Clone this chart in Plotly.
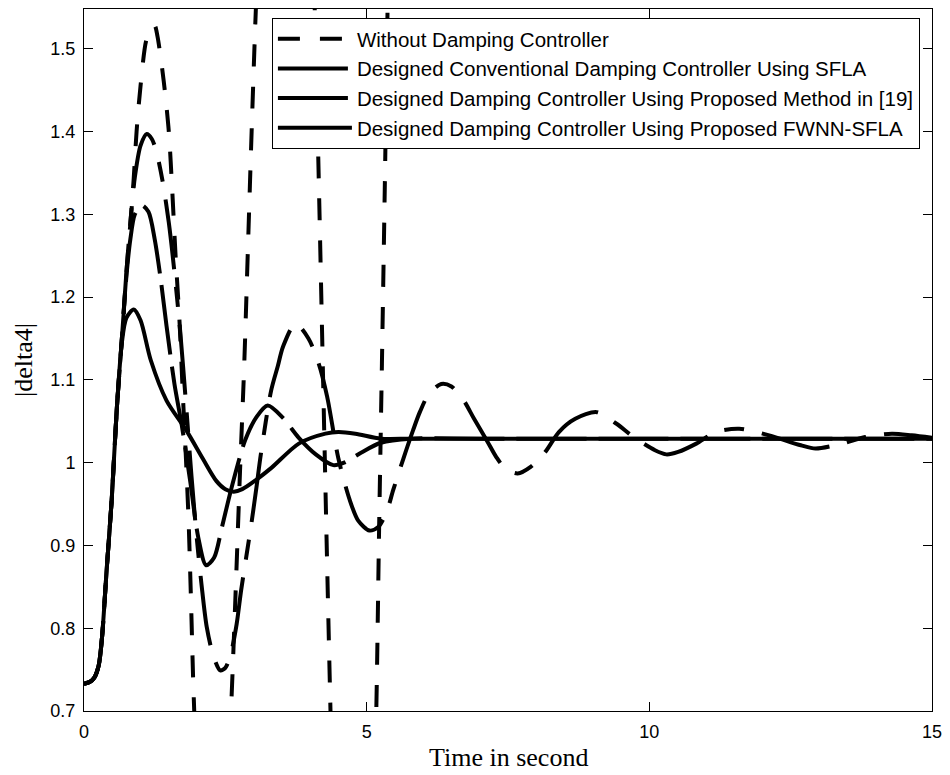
import plotly.graph_objects as go

# ---------------- data ----------------
t_without = [0, 0.1, 0.18, 0.26, 0.32, 0.40, 0.49, 0.58, 0.67, 0.75, 0.82, 0.88, 0.93, 1.0, 1.10,
             1.20, 1.25, 1.30, 1.41, 1.5, 1.56, 1.62, 1.69, 1.75, 1.8, 1.85, 1.89, 1.93, 1.96, 2.0,
             2.1, 2.27, 2.45, 2.55, 2.60, 2.68, 2.76, 2.83, 2.90, 2.97, 3.04, 3.15, 3.55, 3.95,
             4.08, 4.15, 4.22, 4.29, 4.36, 4.45, 4.77, 5.08, 5.17, 5.22, 5.27, 5.32, 5.37, 5.5, 5.7]
delta_without = [0.733, 0.735, 0.740, 0.755, 0.79, 0.87, 0.955, 1.065, 1.15, 1.23, 1.289, 1.344, 1.40, 1.455, 1.51,
                 1.527, 1.528, 1.515, 1.461, 1.40, 1.33, 1.25, 1.17, 1.08, 1.01, 0.93, 0.84, 0.74, 0.68, 0.60,
                 0.49, 0.44, 0.52, 0.63, 0.70, 0.84, 0.99, 1.11, 1.26, 1.41, 1.548, 1.72, 1.98, 1.75,
                 1.55, 1.35, 1.13, 0.91, 0.70, 0.45, 0.10, 0.45, 0.70, 0.92, 1.12, 1.33, 1.55, 2.1, 2.8]

t_sfla = [0, 0.1, 0.18, 0.26, 0.32, 0.40, 0.49, 0.58, 0.67, 0.75, 0.82, 0.9, 1.0, 1.11, 1.2, 1.28, 1.39,
          1.5, 1.6, 1.7, 1.8, 1.9, 2.0, 2.08, 2.17, 2.29, 2.41, 2.5, 2.6, 2.7, 2.78, 2.96, 3.05, 3.13,
          3.31, 3.43, 3.52, 3.74, 3.97, 4.15, 4.3, 4.5, 4.7, 4.85, 5.05, 5.2, 5.35, 5.47, 5.65, 5.82,
          5.94, 6.1, 6.32, 6.5, 6.7, 6.9, 7.14, 7.29, 7.45, 7.67, 7.9, 8.16, 8.4, 8.69, 9.07, 9.42,
          9.72, 10.1, 10.3, 10.51, 10.83, 11.18, 11.59, 12.12, 12.68, 12.94, 13.41, 13.82, 14.29,
          14.64, 15]
delta_sfla = [0.733, 0.735, 0.740, 0.755, 0.79, 0.87, 0.955, 1.065, 1.15, 1.23, 1.29, 1.345, 1.383, 1.397,
              1.391, 1.376, 1.34, 1.29, 1.23, 1.16, 1.075, 0.985, 0.905, 0.852, 0.802, 0.766, 0.749, 0.752,
              0.77, 0.805, 0.846, 0.926, 0.97, 1.011, 1.087, 1.117, 1.14, 1.168, 1.150, 1.12, 1.08, 1.005,
              0.955, 0.93, 0.918, 0.922, 0.94, 0.967, 1.005, 1.039, 1.061, 1.083, 1.095, 1.092, 1.077,
              1.053, 1.025, 1.007, 0.993, 0.987, 0.995, 1.013, 1.037, 1.053, 1.061, 1.047, 1.031, 1.015,
              1.010, 1.013, 1.023, 1.037, 1.041, 1.033, 1.021, 1.017, 1.023, 1.031, 1.035, 1.033, 1.030]

t_m19 = [0, 0.1, 0.18, 0.26, 0.32, 0.40, 0.49, 0.58, 0.67, 0.75, 0.82, 0.9, 1.02, 1.14, 1.25, 1.35,
         1.46, 1.6, 1.73, 1.88, 2.02, 2.16, 2.3, 2.44, 2.6, 2.85, 3.05, 3.25, 3.52, 3.8, 4.1, 4.41,
         4.6, 4.9, 5.25, 5.78, 7, 10, 15]
delta_m19 = [0.733, 0.735, 0.740, 0.755, 0.79, 0.87, 0.955, 1.065, 1.15, 1.225, 1.27, 1.30, 1.311, 1.303,
             1.27, 1.225, 1.165, 1.095, 1.045, 0.977, 0.91, 0.876, 0.885, 0.922, 0.967, 1.027, 1.055,
             1.069, 1.054, 1.030, 1.01, 0.997, 1.0, 1.012, 1.024, 1.029, 1.029, 1.029, 1.029]

t_fwnn = [0, 0.1, 0.18, 0.26, 0.32, 0.40, 0.49, 0.58, 0.67, 0.75, 0.88, 1.0, 1.18, 1.46, 1.81, 2.1,
          2.34, 2.5, 2.65, 2.8, 3.04, 3.32, 3.8, 4.27, 4.5, 4.8, 5.25, 5.78, 7, 10, 15]
delta_fwnn = [0.733, 0.735, 0.740, 0.755, 0.79, 0.87, 0.955, 1.065, 1.145, 1.175, 1.185, 1.172, 1.124,
              1.075, 1.039, 1.005, 0.978, 0.968, 0.965, 0.968, 0.979, 0.994, 1.023, 1.035, 1.037, 1.035,
              1.029, 1.029, 1.029, 1.029, 1.029]

series_names = ["Without Damping Controller",
                "Designed Conventional Damping Controller Using SFLA",
                "Designed Damping Controller Using Proposed Method in [19]",
                "Designed Damping Controller Using Proposed FWNN-SFLA"]

x_ticks = [0, 5, 10, 15]
y_ticks = [0.7, 0.8, 0.9, 1.0, 1.1, 1.2, 1.3, 1.4, 1.5]
y_ticktext = ["0.7", "0.8", "0.9", "1", "1.1", "1.2", "1.3", "1.4", "1.5"]

# ---------------- figure ----------------
fig = go.Figure()
styles = [
    (t_without, delta_without, "22px,20px"),
    (t_sfla, delta_sfla, "70px,18px,20px,18px"),
    (t_m19, delta_m19, "70px,12px"),
    (t_fwnn, delta_fwnn, "solid"),
]
for (tx, ty, dash), name in zip(styles, series_names):
    fig.add_trace(go.Scatter(
        x=tx, y=ty, mode="lines", name=name,
        line=dict(color="black", width=4, dash=dash, shape="spline", smoothing=0.8),
    ))

axis_common = dict(
    showgrid=False, zeroline=False, showline=True, linecolor="black", linewidth=1,
    mirror="allticks", ticks="inside", ticklen=9, tickwidth=1, tickcolor="black",
    tickfont=dict(family="Arial, Liberation Sans, sans-serif", size=18, color="black"),
)
fig.update_xaxes(range=[0, 15], tickvals=x_ticks, ticktext=[str(v) for v in x_ticks],
                 ticklabelstandoff=4, **axis_common)
fig.update_yaxes(range=[0.7, 1.548], tickvals=y_ticks, ticktext=y_ticktext,
                 ticklabelstandoff=4, **axis_common)

fig.add_annotation(text="Time in second", xref="paper", yref="paper", x=0.5, y=-0.066,
                   xanchor="center", yanchor="middle", showarrow=False,
                   font=dict(family="Times New Roman, Liberation Serif, serif", size=26, color="black"))
fig.add_annotation(text="|delta4|", xref="paper", yref="paper", x=-0.072, y=0.5,
                   xanchor="center", yanchor="middle", showarrow=False, textangle=-90,
                   font=dict(family="Times New Roman, Liberation Serif, serif", size=26, color="black"))

fig.update_layout(
    width=950, height=775,
    margin=dict(l=84, r=13, t=8, b=64),
    paper_bgcolor="white", plot_bgcolor="white",
    showlegend=True,
    legend=dict(x=0.2216, y=0.9872, xanchor="left", yanchor="top",
                bgcolor="white", bordercolor="black", borderwidth=1,
                font=dict(family="Arial, Liberation Sans, sans-serif", size=20.5, color="black"),
                itemwidth=74),
)

fig.write_html("out.html")
